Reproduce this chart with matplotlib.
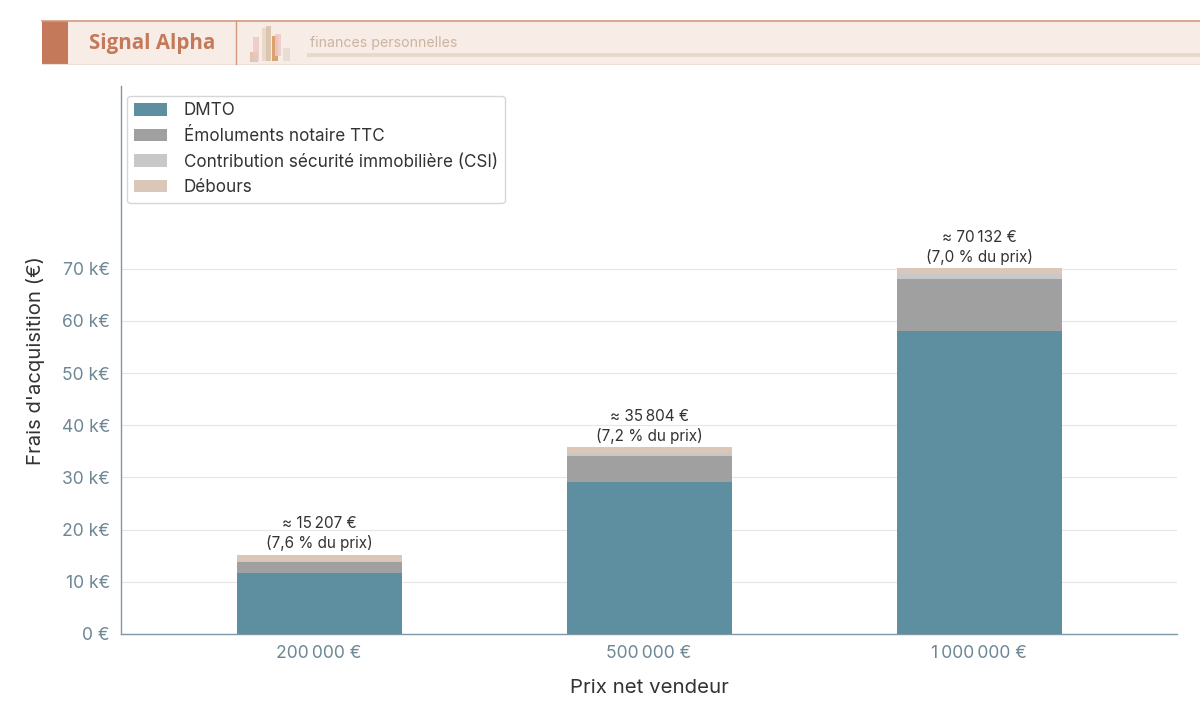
import matplotlib.pyplot as plt
import matplotlib.patches as mpatches
import numpy as np
from matplotlib.ticker import FuncFormatter

# prix net vendeur
prices = [200000, 500000, 1000000]
price_labels = ["200\u202f000 €", "500\u202f000 €", "1\u202f000\u202f000 €"]

# composantes des frais (€)
dmto = [11613, 29033, 58066]
emoluments = [2194, 5071, 9866]
csi = [200, 500, 1000]
debours = [1200, 1200, 1200]

series_names = ["DMTO", "Émoluments notaire TTC",
                "Contribution sécurité immobilière (CSI)", "Débours"]
series_colors = ["#5e8fa1", "#a0a0a0", "#c8c8c8", "#dbc7b9"]

plt.rcParams['font.family'] = ['Inter', 'DejaVu Sans']

fig = plt.figure(figsize=(12, 7.21), dpi=100)
fig.patch.set_facecolor("white")

# --- bandeau en tete ---
H = 721.0
def fy(p):
    return 1 - p / H

fig.patches.append(mpatches.Rectangle((42 / 1200, fy(64)), 1 - 42 / 1200, (64 - 21) / H,
                                      transform=fig.transFigure, facecolor="#f7ece6",
                                      edgecolor="none", zorder=0))
fig.add_artist(plt.Line2D([42 / 1200, 1], [fy(21), fy(21)], transform=fig.transFigure,
                          color="#d49a80", lw=1.2))
fig.add_artist(plt.Line2D([42 / 1200, 1], [fy(64), fy(64)], transform=fig.transFigure,
                          color="#efe0d7", lw=0.8))
fig.patches.append(mpatches.Rectangle((42 / 1200, fy(64)), 26 / 1200, 43 / H,
                                      transform=fig.transFigure, facecolor="#c47a5a",
                                      edgecolor="none"))
fig.add_artist(plt.Line2D([236 / 1200, 236 / 1200], [fy(64), fy(21)], transform=fig.transFigure,
                          color="#d49a80", lw=1.0))
fig.text(89 / 1200, fy(43), "Signal Alpha", fontsize=14.8, fontweight="bold",
         color="#c47a5a", va="center", ha="left", family=["Open Sans", "DejaVu Sans"])
# petit logo en barres
logo = [(250, 52, 8, 10, "#e9b99f"), (253, 37, 6, 24, "#eec9c4"), (262, 28, 8, 33, "#e6d6c6"),
        (266, 26, 5, 35, "#dbc1a8"), (272, 36, 6, 25, "#d6955a"), (275, 34, 6, 22, "#efc9c7"),
        (283, 48, 7, 13, "#e6dbd0"), (252, 55, 5, 6, "#d9cbbf")]
for x0, y0, w, h, c in logo:
    fig.patches.append(mpatches.Rectangle((x0 / 1200, fy(y0 + h)), w / 1200, h / H,
                                          transform=fig.transFigure, facecolor=c,
                                          edgecolor="none", alpha=0.85))
fig.text(310 / 1200, fy(43), "finances personnelles", fontsize=10.2, color="#cdb4a0",
         va="center", ha="left")
fig.patches.append(mpatches.Rectangle((307 / 1200, fy(57)), 1 - 307 / 1200, 4 / H,
                                      transform=fig.transFigure, facecolor="#e8d9cd",
                                      edgecolor="none"))

# --- graphique ---
ax = fig.add_axes([121 / 1200, fy(634), (1177 - 121) / 1200, (634 - 86) / H])
x = np.arange(len(prices))
width = 0.5
bottom = np.zeros(len(prices))
for vals, name, col in zip([dmto, emoluments, csi, debours], series_names, series_colors):
    ax.bar(x, vals, width, bottom=bottom, color=col, label=name, zorder=3)
    bottom = bottom + np.array(vals)

totals = bottom
for xi, tot, p in zip(x, totals, prices):
    pct = f"{tot / p * 100:.1f}".replace(".", ",")
    tot_s = f"{int(tot):,}".replace(",", "\u202f")
    ax.annotate(f"≈ {tot_s} €\n({pct} % du prix)", (xi, tot), xytext=(0, 2.5),
                textcoords="offset points", ha="center", va="bottom", fontsize=11,
                color="#333333", linespacing=1.3)

ax.set_xlim(-0.6, 2.6)
ax.set_ylim(0, 105000)
ax.set_yticks(np.arange(0, 70001, 10000))
ax.yaxis.set_major_formatter(FuncFormatter(lambda v, _: "0 €" if v == 0 else f"{int(v / 1000)} k€"))
ax.set_xticks(x)
ax.set_xticklabels(price_labels)
ax.grid(axis="y", color="#e6e6e6", lw=0.8, zorder=0)
axis_col = "#7f97a6"
for s in ["top", "right"]:
    ax.spines[s].set_visible(False)
for s in ["left", "bottom"]:
    ax.spines[s].set_color(axis_col)
    ax.spines[s].set_linewidth(1.0)
ax.tick_params(length=0, labelsize=12.6, labelcolor="#6e8795", pad=8)
ax.set_xlabel("Prix net vendeur", fontsize=14.7, color="#333333", labelpad=12)
ax.set_ylabel("Frais d'acquisition (€)", fontsize=14.6, color="#333333", labelpad=12)

leg = ax.legend(loc="upper left", fontsize=12.3, frameon=True, fancybox=True,
                edgecolor="#cccccc", handlelength=1.9, handleheight=0.75,
                labelspacing=0.5, borderpad=0.4, handletextpad=1.0,
                bbox_to_anchor=(-0.002, 0.998))
for t in leg.get_texts():
    t.set_color("#333333")

plt.savefig("out.png", dpi=100)
